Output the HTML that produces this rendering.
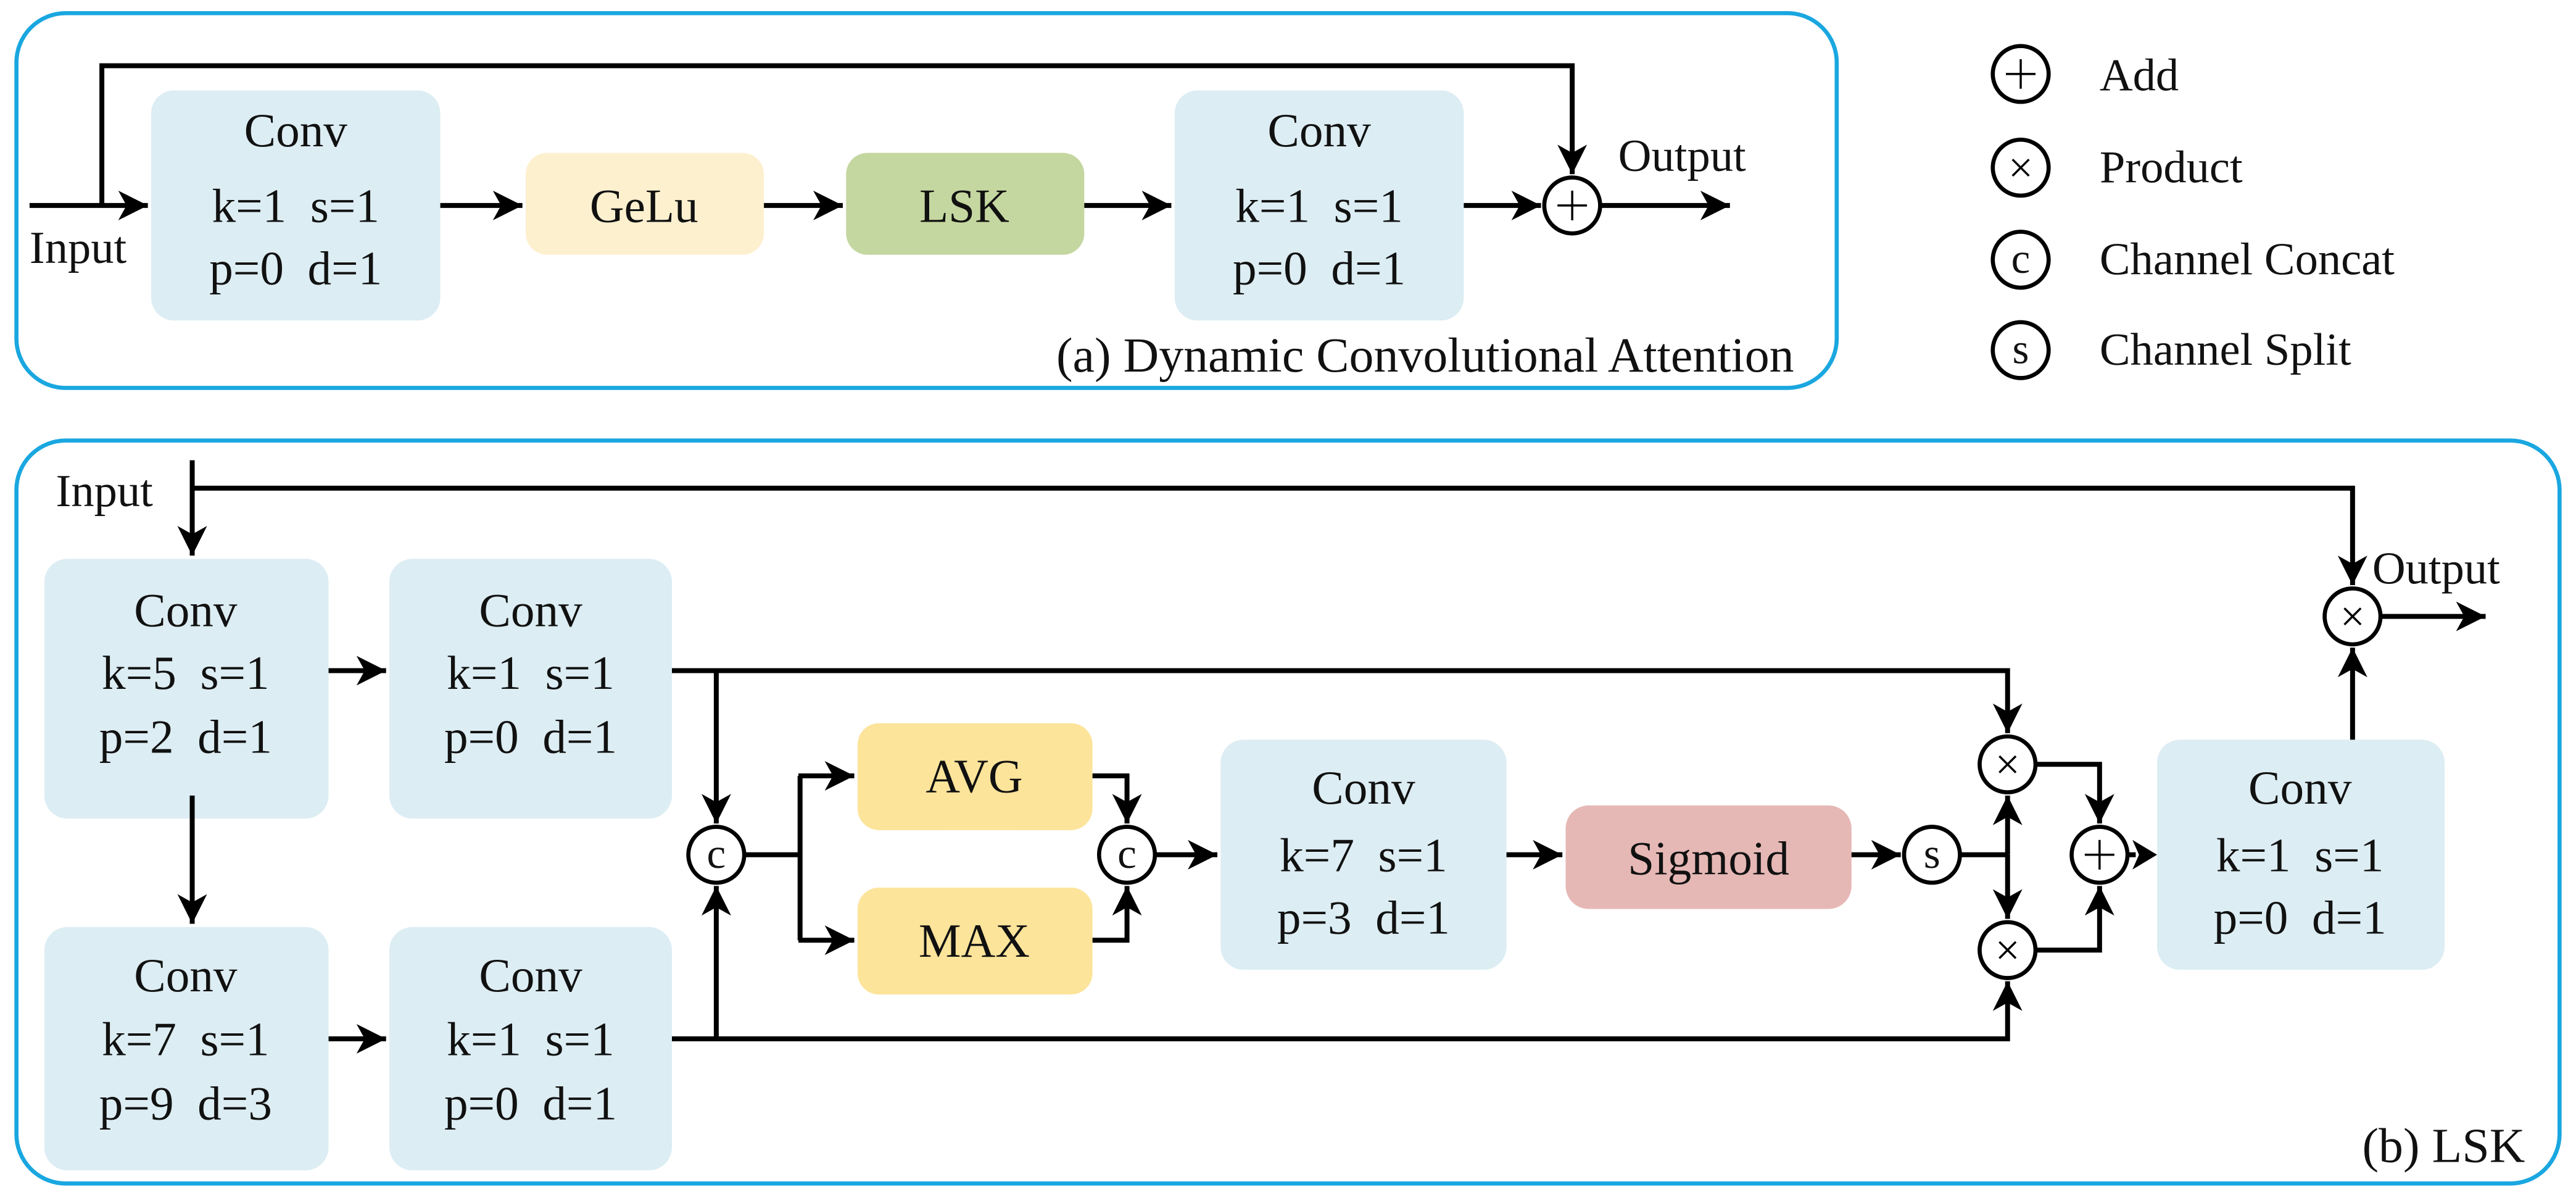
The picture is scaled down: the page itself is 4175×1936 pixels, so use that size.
<!DOCTYPE html>
<html><head><meta charset="utf-8"><style>
html,body{margin:0;padding:0;background:#fff;}
svg{display:block;}
svg text{font-family:"Liberation Serif","Times New Roman",Times,"Nimbus Roman","Tinos","DejaVu Serif","Noto Serif CJK SC",serif;fill:#111;white-space:pre;}
</style></head><body>
<svg width="4175" height="1936" viewBox="0 0 1568 727" preserveAspectRatio="none" xmlns="http://www.w3.org/2000/svg" xml:space="preserve">
<defs>
<marker id="a" markerUnits="userSpaceOnUse" markerWidth="20" markerHeight="20" refX="18" refY="10" orient="auto">
<path d="M0,1 L18,10 L0,19 L5,10 Z" fill="#000"/>
</marker>
</defs>
<g fill="none" stroke="#1aa7e0" stroke-width="2.5">
<rect x="10" y="8" width="1108" height="228" rx="30"/>
<rect x="10" y="268" width="1548" height="452" rx="30"/>
</g>
<g stroke="none">
<rect x="92" y="55" width="176" height="140" rx="14" fill="#dcedf3"/>
<rect x="320" y="93" width="145" height="62" rx="13" fill="#fdf0cf"/>
<rect x="515" y="93" width="145" height="62" rx="13" fill="#c5d7a0"/>
<rect x="715" y="55" width="176" height="140" rx="14" fill="#dcedf3"/>
<rect x="27" y="340" width="173" height="158" rx="14" fill="#dcedf3"/>
<rect x="237" y="340" width="172" height="158" rx="14" fill="#dcedf3"/>
<rect x="27" y="564" width="173" height="148" rx="14" fill="#dcedf3"/>
<rect x="237" y="564" width="172" height="148" rx="14" fill="#dcedf3"/>
<rect x="522" y="440" width="143" height="65" rx="13" fill="#fde49b"/>
<rect x="522" y="540" width="143" height="65" rx="13" fill="#fde49b"/>
<rect x="743" y="450" width="174" height="140" rx="14" fill="#dcedf3"/>
<rect x="953" y="490" width="174" height="63" rx="14" fill="#e6b8b5"/>
<rect x="1313" y="450" width="175" height="140" rx="14" fill="#dcedf3"/>
</g>
<g fill="none" stroke="#000" stroke-width="3">
<path d="M62,125 V40 H957 V106" marker-end="url(#a)"/>
<path d="M18,125 H90" marker-end="url(#a)"/>
<path d="M268,125 H318" marker-end="url(#a)"/>
<path d="M465,125 H513" marker-end="url(#a)"/>
<path d="M660,125 H713" marker-end="url(#a)"/>
<path d="M891,125 H938" marker-end="url(#a)"/>
<path d="M975,125 H1053" marker-end="url(#a)"/>
<path d="M117,280 V338" marker-end="url(#a)"/>
<path d="M117,297 H1432 V356" marker-end="url(#a)"/>
<path d="M200,408 H235" marker-end="url(#a)"/>
<path d="M117,484 V562" marker-end="url(#a)"/>
<path d="M200,632 H235" marker-end="url(#a)"/>
<path d="M409,408 H1222 V446" marker-end="url(#a)"/>
<path d="M436,408 V501" marker-end="url(#a)"/>
<path d="M409,632 H1222 V597" marker-end="url(#a)"/>
<path d="M436,632 V539" marker-end="url(#a)"/>
<path d="M453,520 H487"/>
<path d="M487,472 V572"/>
<path d="M486,472 H520" marker-end="url(#a)"/>
<path d="M486,572 H520" marker-end="url(#a)"/>
<path d="M665,472 H686 V501" marker-end="url(#a)"/>
<path d="M665,572 H686 V539" marker-end="url(#a)"/>
<path d="M703,520 H741" marker-end="url(#a)"/>
<path d="M917,520 H951" marker-end="url(#a)"/>
<path d="M1127,520 H1157" marker-end="url(#a)"/>
<path d="M1193,520 H1222"/>
<path d="M1222,520 V484" marker-end="url(#a)"/>
<path d="M1222,520 V559" marker-end="url(#a)"/>
<path d="M1239,465 H1278 V501" marker-end="url(#a)"/>
<path d="M1239,578 H1278 V539" marker-end="url(#a)"/>
<path d="M1295,520 H1300"/>
<path d="M1432,450 V394" marker-end="url(#a)"/>
<path d="M1449,375 H1513" marker-end="url(#a)"/>
</g>
<path d="M1298,511 L1313,520 L1298,529 L1302,520 Z" fill="#000"/>
<g fill="#fff" stroke="#000" stroke-width="2.5">
<circle cx="957" cy="125" r="17"/>
<circle cx="1230" cy="45" r="17"/>
<circle cx="1230" cy="102" r="17"/>
<circle cx="1230" cy="158" r="17"/>
<circle cx="1230" cy="213" r="17"/>
<circle cx="436" cy="520" r="17"/>
<circle cx="686" cy="520" r="17"/>
<circle cx="1176" cy="520" r="17"/>
<circle cx="1222" cy="465" r="17"/>
<circle cx="1222" cy="578" r="17"/>
<circle cx="1278" cy="520" r="17"/>
<circle cx="1432" cy="375" r="17"/>
</g>
<g stroke="#000" stroke-width="1.3" fill="none">
<path d="M957,116 V134 M948,125 H966"/>
<path d="M1230,36 V54 M1221,45 H1239"/>
<path d="M1278,511 V529 M1269,520 H1287"/>
<path d="M1225,97 L1235,107 M1235,97 L1225,107"/>
<path d="M1217,460 L1227,470 M1227,460 L1217,470"/>
<path d="M1217,573 L1227,583 M1227,573 L1217,583"/>
<path d="M1427,370 L1437,380 M1437,370 L1427,380"/>
</g>
<g font-size="26" text-anchor="middle">
<text x="1230" y="166">c</text>
<text x="1230" y="221">s</text>
<text x="436" y="528">c</text>
<text x="686" y="528">c</text>
<text x="1176" y="528">s</text>
</g>
<g font-size="29" text-anchor="middle">
<text x="180" y="89">Conv</text>
<text x="180" y="135">k=1  s=1</text>
<text x="180" y="173">p=0  d=1</text>
<text x="392" y="135">GeLu</text>
<text x="587" y="135">LSK</text>
<text x="803" y="89">Conv</text>
<text x="803" y="135">k=1  s=1</text>
<text x="803" y="173">p=0  d=1</text>
<text x="113" y="381">Conv</text>
<text x="113" y="419">k=5  s=1</text>
<text x="113" y="458">p=2  d=1</text>
<text x="323" y="381">Conv</text>
<text x="323" y="419">k=1  s=1</text>
<text x="323" y="458">p=0  d=1</text>
<text x="113" y="603">Conv</text>
<text x="113" y="642">k=7  s=1</text>
<text x="113" y="681">p=9  d=3</text>
<text x="323" y="603">Conv</text>
<text x="323" y="642">k=1  s=1</text>
<text x="323" y="681">p=0  d=1</text>
<text x="593" y="482">AVG</text>
<text x="593" y="582">MAX</text>
<text x="830" y="489">Conv</text>
<text x="830" y="530">k=7  s=1</text>
<text x="830" y="568">p=3  d=1</text>
<text x="1040" y="532">Sigmoid</text>
<text x="1400" y="489">Conv</text>
<text x="1400" y="530">k=1  s=1</text>
<text x="1400" y="568">p=0  d=1</text>
</g>
<g font-size="28">
<text x="18" y="160">Input</text>
<text x="985" y="104">Output</text>
<text x="34" y="308">Input</text>
<text x="1444" y="355">Output</text>
<text x="1278" y="55">Add</text>
<text x="1278" y="111">Product</text>
<text x="1278" y="167">Channel Concat</text>
<text x="1278" y="222">Channel Split</text>
</g>
<g font-size="30" text-anchor="end">
<text x="1092" y="226">(a) Dynamic Convolutional Attention</text>
<text x="1537" y="707">(b) LSK</text>
</g>
</svg>
</body></html>
